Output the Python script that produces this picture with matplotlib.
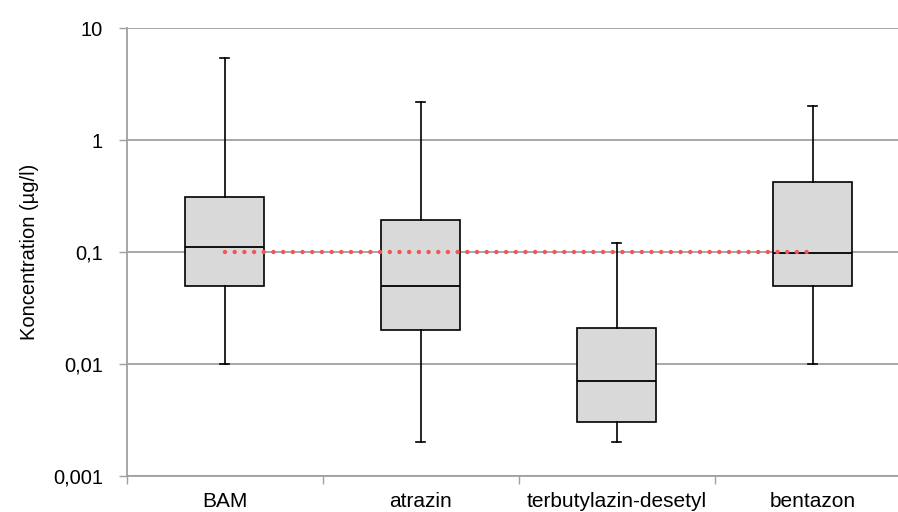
import matplotlib
matplotlib.use("Agg")
import matplotlib.pyplot as plt
from matplotlib.ticker import FixedLocator, FixedFormatter, NullLocator

categories = ["BAM", "atrazin", "terbutylazin-desetyl", "bentazon"]
whisker_low = [0.01, 0.002, 0.002, 0.01]
q1 = [0.05, 0.02, 0.003, 0.05]
median = [0.11, 0.05, 0.007, 0.097]
q3 = [0.31, 0.194, 0.021, 0.42]
whisker_high = [5.4, 2.2, 0.12, 2.0]
limit_value = 0.1
ytick_values = [0.001, 0.01, 0.1, 1, 10]
ytick_labels = ["0,001", "0,01", "0,1", "1", "10"]

plt.rcParams['font.family'] = ['Liberation Sans', 'DejaVu Sans']

W, H = 898, 512
fig = plt.figure(figsize=(W / 100, H / 100), dpi=100)
left = 126.5 / W
right = (126.5 + 4 * 196) / W
bottom = 1 - 475.5 / H
top = 1 - 28.3 / H
ax = fig.add_axes([left, bottom, right - left, top - bottom])

stats = []
for i, c in enumerate(categories):
    stats.append(dict(label=c, whislo=whisker_low[i], q1=q1[i], med=median[i],
                      q3=q3[i], whishi=whisker_high[i], fliers=[]))

positions = list(range(len(categories)))
ax.bxp(stats, positions=positions, widths=0.4, capwidths=0.05, patch_artist=True,
       showfliers=False,
       boxprops=dict(facecolor="#D9D9D9", edgecolor="black", linewidth=1.2),
       medianprops=dict(color="black", linewidth=1.3),
       whiskerprops=dict(color="black", linewidth=1.2),
       capprops=dict(color="black", linewidth=1.2), zorder=3)

ax.plot([positions[0], positions[-1]], [limit_value, limit_value], color="#F25555",
        linewidth=3.2, linestyle=(0, (0.001, 2.18)), dash_capstyle="round", zorder=4)

ax.set_yscale("log")
ax.set_ylim(0.001, 10)
ax.set_xlim(-0.5, len(categories) - 0.5)

ax.yaxis.set_major_locator(FixedLocator(ytick_values))
ax.yaxis.set_major_formatter(FixedFormatter(ytick_labels))
ax.yaxis.set_minor_locator(NullLocator())
ax.tick_params(axis="y", which="major", length=6, width=1, color="#A0A0A0",
               labelsize=14.5, pad=11, labelcolor="black")

ax.set_xticks(positions)
ax.set_xticklabels(categories)
ax.set_xticks([p - 0.5 for p in positions], minor=True)
ax.tick_params(axis="x", which="major", length=0, labelsize=15, pad=12)
ax.tick_params(axis="x", which="minor", length=6, width=1, color="#A0A0A0")

ax.grid(axis="y", which="major", color="#A0A0A0", linewidth=1.3, zorder=0)
ax.set_axisbelow(True)
for s in ["top", "right"]:
    ax.spines[s].set_visible(False)
for s in ["left", "bottom"]:
    ax.spines[s].set_color("#A0A0A0")
    ax.spines[s].set_linewidth(1.3)

ax.set_ylabel("Koncentration (µg/l)", fontsize=14.5, labelpad=10)

fig.savefig("out.png", dpi=100)
